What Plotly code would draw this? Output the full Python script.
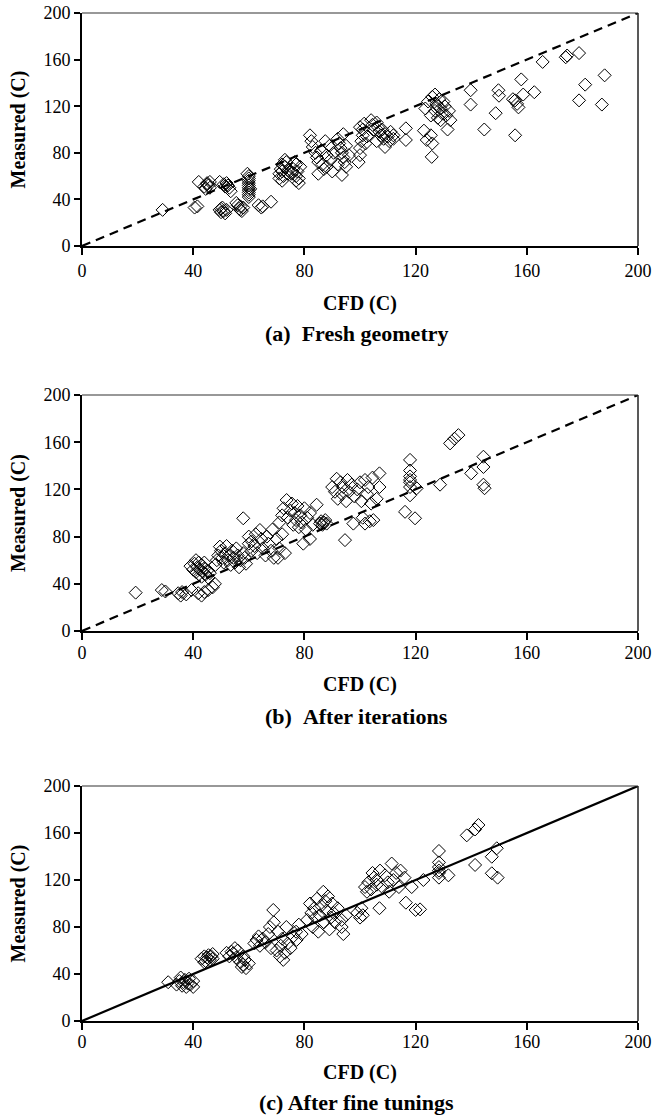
import plotly.graph_objects as go

# ---------------- data ----------------
a_x = [29, 40.5, 41.5,
       42, 44, 45, 45.5, 46, 45, 46, 44.5,
       49.5, 51, 52.5, 53, 52, 53.5, 51.5,
       49.5, 50, 50.5, 51, 50, 52, 51.5,
       55.5, 56.5, 57, 57.5, 56, 58, 57,
       60, 60, 60, 60, 60, 60, 60, 60, 60, 60, 59.5, 60.5,
       63.5, 64.5, 65, 68,
       71, 71.5, 72, 72, 72.5, 73, 73.5, 74, 71, 72, 73, 74,
       75.5, 76, 77, 77, 77.5, 78, 78, 76.5, 78.5, 77,
       82, 82.5, 83, 84, 84.5, 85, 85, 86, 86.5, 87, 87.5, 88, 88, 89, 89.5, 90, 90.5,
       92, 92.5, 93, 93.5, 94, 94, 94.5, 95, 93.5, 95, 96, 92,
       99.5, 100, 100, 100.5, 101, 101, 101.5, 102, 102.5, 100,
       104, 104.5, 105, 106, 106.5, 107, 107.5, 108, 108.5, 109, 109, 110, 110.5, 111, 112, 112, 106,
       116.5, 116.5,
       123, 124, 125.5, 125.8, 126,
       123.5, 124.5, 125.5, 126, 127, 127.5, 128, 128.5, 129, 129.5, 130, 130.5, 131, 131.5, 132, 132.5, 127, 128, 129,
       139.8, 139.8, 144.7, 148.8, 149.8, 150,
       155, 155.8, 156.5, 157, 155.8, 158, 158.7, 162.7,
       165.7, 174, 174.5, 178.8, 181, 188, 178.8, 187]
a_y = [31, 33, 34,
       55, 51, 53, 52, 50, 54, 55, 49,
       55, 53, 52, 50, 54, 47, 51,
       31, 29, 33, 30, 32, 31, 28,
       37, 32, 34, 30, 35, 33, 31,
       42, 44, 46, 48, 50, 52, 54, 56, 58, 60, 62, 49,
       35, 33, 34, 38,
       62, 66, 70, 64, 60, 68, 72, 65, 58, 56, 74, 62,
       62, 66, 60, 70, 64, 58, 54, 72, 68, 56,
       95, 90, 85, 80, 76, 72, 62, 82, 70, 66, 90, 68, 78, 86, 74, 64, 80,
       92, 88, 84, 80, 76, 96, 72, 68, 61, 86, 78, 70,
       72, 78, 84, 90, 95, 100, 105, 88, 94, 102,
       108, 104, 100, 106, 102, 98, 95, 100, 92, 96, 85, 94, 90, 98, 92, 95, 90,
       101, 91,
       99, 91, 95, 76.5, 88,
       118, 124, 112, 128, 116, 122, 110, 126, 118, 114, 124, 120, 112, 100, 116, 108, 130, 120, 108,
       133.7, 121.4, 100, 114, 133.7, 129,
       126, 125, 122, 119, 95, 143, 130, 132,
       158, 162, 163.5, 165.6, 138.5, 146.5, 125, 121.4]

b_x = [19.3, 28.7, 30,
       34.6, 35.5, 36, 37.5, 39.4, 41.8, 43, 44, 45.4, 47, 47.8,
       39, 40, 40.5, 41, 41.5, 42, 42, 42.5, 43, 43, 43.5, 44, 44.5, 45, 45.5, 46, 41, 44,
       48, 48.5, 49, 49.6, 50, 50.5, 51, 51.5, 52, 52.5, 53, 53.5, 54, 54.5, 55, 55.5, 56, 56.5, 57, 58, 58.5, 59, 60, 61,
       58, 60, 61, 62, 62.5, 63, 64, 64.5, 65, 66, 66.5, 67, 68, 68.5, 69, 70, 70.5, 71, 72, 73,
       71, 72, 72.5, 73.6, 74, 75, 75.5, 76, 76.5, 77, 77.5, 78, 78.5, 79, 79.6, 80, 80.5, 81, 82, 82, 83, 84.4, 85.6, 86, 86.5, 87, 87.5, 88,
       90, 91, 91.6, 92, 93, 93.5, 94, 94.6, 95, 95.5, 96, 97, 97.6, 98, 99, 100, 100.5, 101, 101.8, 101.8, 102.5, 103, 104, 104.5, 104.8, 107, 107, 106, 103.5,
       116.2, 118, 118, 118, 118, 118, 118, 118, 119.8, 120.4, 128.8,
       132.4, 134, 135.4, 140, 144.4, 144.4, 144.4, 144.8]
b_y = [32.5, 34.7, 33.5,
       32, 30, 33, 31, 34.7, 32, 30, 33, 34.7, 37, 40,
       55, 52, 57, 50, 54, 48, 58, 52, 46, 56, 50, 53, 48, 51, 45, 49, 60, 58,
       56, 60, 64, 71.5, 68, 62, 58, 66, 72, 60, 64, 56, 68, 62, 58, 70, 64, 54, 60, 66, 62, 57, 74, 68,
       95.5, 80, 76, 72, 82, 66, 85.6, 78, 70, 64, 80, 74, 68, 86, 62, 78, 62, 70, 82, 66,
       92, 98, 104, 111, 96, 102, 108, 90, 100, 94, 106, 88, 98, 92, 74, 104, 86, 96, 78, 100, 90, 107, 91, 93, 90, 92, 94, 91,
       122, 118, 129, 112, 126, 116, 122, 77, 110, 128, 118, 124, 91, 114, 120, 126, 110, 96, 128, 91, 116, 122, 108, 130, 94, 133.6, 122, 112, 93,
       101, 145, 136, 131, 128, 126, 122, 115, 95.5, 121, 124,
       159, 163, 166, 133.6, 147.7, 139, 124, 121]

c_x = [31, 34, 35, 36, 36.5, 37, 37.5, 38, 38.5, 39, 40, 35.5, 40,
       43, 44, 44.5, 45, 45.5, 46, 46.5, 47, 44, 47,
       52, 53, 53.8, 54.4, 55, 55.5, 56, 57, 57.5, 58, 58.5, 59, 60, 58,
       62, 62.8, 63.5, 64, 65, 66, 67, 67.6, 68, 68.8, 69, 70, 70.5, 71.2, 71.5, 72, 72.4, 73, 73.5, 74, 75, 76, 77, 77.2, 78, 79,
       81, 82, 82.5, 83, 83.5, 84, 84.5, 85, 85.5, 86, 86.8, 87, 87.5, 88, 88.5, 89, 89.5, 90, 90.5, 91, 92, 93.4, 93.4, 94, 95,
       99, 100, 100.5, 101, 101.8, 102.5, 103, 104, 104.5, 105, 106, 106, 107, 107.2, 108, 109, 110, 110.5, 111.4, 112, 113, 114, 114.6, 116, 116.5, 118.6, 120, 121.6, 122.8,
       128.4, 128.4, 128.4, 128.4, 128.4, 128.4, 131.8,
       138.4, 141.4, 142.6, 141.4, 147.4, 149.2, 147.4, 149.5]
c_y = [33, 31, 34, 30, 33, 35, 29, 32, 36, 31, 34, 37, 29,
       53, 55, 51, 54, 56, 52, 55, 53, 50, 57,
       58, 55, 59, 57.6, 62, 54, 60, 50, 46, 48, 52, 45, 49, 55,
       66, 69, 72, 64, 70, 67, 74, 80, 62, 94.5, 84, 60, 76, 55, 64, 70, 52, 58, 80, 66, 62, 72, 76, 69, 82, 74,
       86, 100, 92, 80, 96, 88, 104, 76, 90, 98, 110, 84, 102, 94, 106, 78, 88, 100, 92, 84, 96, 86, 80, 74, 90,
       92, 88, 96, 90, 114, 110, 118, 112, 126, 122, 116, 120, 96, 128, 114, 124, 118, 110, 134, 120, 126, 114, 128, 122, 100.7, 114, 94.5, 95, 120,
       144.7, 135, 131, 128, 126, 122, 124,
       158, 163, 166.8, 132.8, 139.8, 147, 125.7, 122]

ref_line = [0, 200]
tick_vals = [0, 40, 80, 120, 160, 200]
tick_text = ["0", "40", "80", "120", "160", "200"]
captions = ["(a)&nbsp;&nbsp;Fresh geometry", "(b)&nbsp;&nbsp;After iterations", "(c) After fine tunings"]
x_title = "CFD (C)"
y_title = "Measured (C)"

# ---------------- figure ----------------
W, H = 656, 1118
FONT = "'Liberation Serif', 'Times New Roman', Times, serif"

def py(px):  # pixel (from top) -> paper fraction
    return 1 - px / H

panels = [
    dict(x=a_x, y=a_y, top=13, bot=246, dash="dash", tstand=0, xt=57, cap=87),
    dict(x=b_x, y=b_y, top=395, bot=631, dash="dash", tstand=-3, xt=53, cap=85),
    dict(x=c_x, y=c_y, top=786, bot=1021, dash="solid", tstand=-4, xt=51, cap=81),
]
x0px, x1px = 82, 638

fig = go.Figure()
layout = dict(
    width=W, height=H, paper_bgcolor="white", plot_bgcolor="white",
    margin=dict(l=0, r=0, t=0, b=0, autoexpand=False), showlegend=False,
    font=dict(family=FONT, color="black", size=17),
)
annotations = []
shapes = []
for i, p in enumerate(panels):
    n = "" if i == 0 else str(i + 1)
    xa, ya = "x" + n, "y" + n
    fig.add_trace(go.Scatter(
        x=ref_line, y=ref_line, mode="lines", xaxis=xa, yaxis=ya,
        line=dict(color="black", width=2.2, dash="9px,6px" if p["dash"] == "dash" else "solid"),
        hoverinfo="skip"))
    fig.add_trace(go.Scatter(
        x=p["x"], y=p["y"], mode="markers", xaxis=xa, yaxis=ya,
        marker=dict(symbol="diamond-open", size=10, color="black", line=dict(width=1, color="black")),
        cliponaxis=False))
    axcommon = dict(range=[0, 200], tickvals=tick_vals, ticktext=tick_text, showgrid=False,
                    zeroline=False, showline=True, linecolor="black", linewidth=2,
                    ticks="outside", tickcolor="black", tickwidth=1.5, automargin=False,
                    tickfont=dict(family=FONT, size=18, color="black"))
    layout["xaxis" + n] = dict(axcommon, domain=[x0px / W, x1px / W], anchor=ya, ticklen=7,
                               ticklabelstandoff=p["tstand"])
    layout["yaxis" + n] = dict(axcommon, domain=[py(p["bot"]), py(p["top"])], anchor=xa, ticklen=6)
    # thin top/right frame
    shapes.append(dict(type="line", xref=xa + " domain", yref=ya + " domain", x0=0, x1=1, y0=1, y1=1,
                       line=dict(color="#333", width=1.2)))
    shapes.append(dict(type="line", xref=xa + " domain", yref=ya + " domain", x0=1, x1=1, y0=0, y1=1,
                       line=dict(color="#222", width=1.5)))
    annotations.append(dict(text="<b>%s</b>" % x_title, x=(x0px + x1px) / 2 / W, xref="paper",
                            y=py(p["bot"] + p["xt"]), yref="paper", showarrow=False, xanchor="center",
                            yanchor="middle", font=dict(family=FONT, size=20)))
    annotations.append(dict(text="<b>%s</b>" % captions[i], x=(x0px + x1px) / 2 / W - 0.005, xref="paper",
                            y=py(p["bot"] + p["cap"]), yref="paper", showarrow=False, xanchor="center",
                            yanchor="middle", font=dict(family=FONT, size=22)))
    annotations.append(dict(text="<b>%s</b>" % y_title, x=18 / W, xref="paper",
                            y=py((p["top"] + p["bot"]) / 2), yref="paper", showarrow=False,
                            xanchor="center", yanchor="middle", textangle=-90,
                            font=dict(family=FONT, size=20)))

layout["annotations"] = annotations
layout["shapes"] = shapes
fig.update_layout(**layout)
fig.write_html("out.html", config={"displayModeBar": False},
               post_script="document.body.style.margin='0px';document.body.style.overflow='hidden';")
